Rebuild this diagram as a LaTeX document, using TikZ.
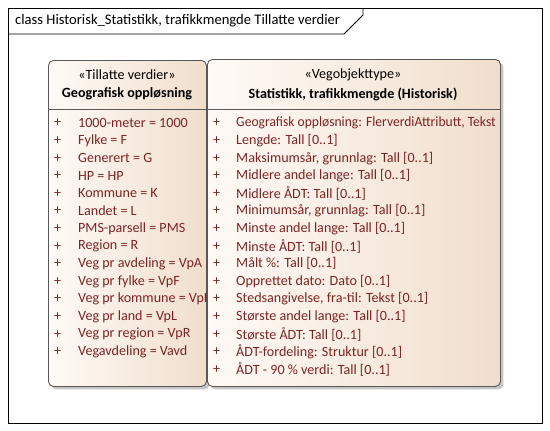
\documentclass[tikz,border=0pt]{standalone}
\usepackage{fontspec}
\setmainfont{Carlito}
\usetikzlibrary{shadows}

\definecolor{attrtext}{RGB}{125,36,36}
\definecolor{boxedge}{RGB}{88,88,88}
\definecolor{peachlight}{RGB}{255,250,246}
\definecolor{peachdark}{RGB}{240,222,204}

\begin{document}
\begin{tikzpicture}[x=1pt,y=-1pt,
  classbox/.style={draw=boxedge, line width=0.9pt, rounded corners=5pt,
    left color=peachlight, right color=peachdark,
    drop shadow={shadow xshift=3pt, shadow yshift=-3pt, fill=black!28, opacity=0.8},
    inner sep=0pt, anchor=north west},
  uitext/.style={font=\fontsize{14.1}{16}\selectfont, inner sep=0pt},
  attrrow/.style={uitext, text=attrtext, anchor=west},
  stereo/.style={uitext, anchor=center},
  classname/.style={uitext, font=\fontsize{14.1}{16}\selectfont\bfseries, anchor=center},
  divider/.style={draw=boxedge, line width=0.8pt}]

\useasboundingbox (0,0) rectangle (550,431);
\fill[white] (0,0) rectangle (550,431);

% diagram frame with its name tab
\draw[line width=0.9pt] (8,8) rectangle (542,423);
\draw[line width=0.9pt] (8,34) -- (344,34) -- (363,15) -- (363,8);
\node[uitext, font=\fontsize{14.6}{16}\selectfont, anchor=west] (frametitle) at (15,21)
  {class Historisk\_Statistikk, trafikkmengde Tillatte verdier};

% enumeration: Geografisk oppløsning
\node[classbox, minimum width=158pt, minimum height=326pt] (geo) at (48,60) {};
\node[stereo] (geostereo) at (127,75) {«Tillatte verdier»};
\node[classname] (geoname) at (127,94) {Geografisk oppløsning};
\draw[divider] (48,109) -- (206,109);
\foreach \txt [count=\i from 0] in {1000-meter = 1000, Fylke = F, Generert = G,
    HP = HP, Kommune = K, Landet = L, PMS-parsell = PMS, Region = R,
    Veg pr avdeling = VpA, Veg pr fylke = VpF, Veg pr kommune = VpK,
    Veg pr land = VpL, Veg pr region = VpR, Vegavdeling = Vavd} {
  \node[attrrow] (geoplus\i) at (54,123+17.6*\i) {+};
  \node[attrrow] (geoattr\i) at (78,123+17.6*\i) {\txt};
}

% feature type: Statistikk, trafikkmengde (Historisk)
\node[classbox, minimum width=293pt, minimum height=327pt] (stat) at (207,59) {};
\node[stereo] (statstereo) at (353,75) {«Vegobjekttype»};
\node[classname] (statname) at (353,94) {Statistikk, trafikkmengde (Historisk)};
\draw[divider] (207,109) -- (500,109);
\begin{scope}
  % attribute texts stay inside the compartment
  \clip (207,110) rectangle (499,386);
  \foreach \txt [count=\i from 0] in {{\scalebox{0.962}[1]{Geografisk oppløsning: FlerverdiAttributt, Tekst}},
      {Lengde: Tall [0..1]}, {Maksimumsår, grunnlag: Tall [0..1]},
      {Midlere andel lange: Tall [0..1]}, {Midlere ÅDT: Tall [0..1]},
      {Minimumsår, grunnlag: Tall [0..1]}, {Minste andel lange: Tall [0..1]},
      {Minste ÅDT: Tall [0..1]}, {Målt \%: Tall [0..1]},
      {Opprettet dato: Dato [0..1]}, {Stedsangivelse, fra-til: Tekst [0..1]},
      {Største andel lange: Tall [0..1]}, {Største ÅDT: Tall [0..1]},
      {ÅDT-fordeling: Struktur [0..1]}, {ÅDT - 90 \% verdi: Tall [0..1]}} {
    \node[attrrow] (statplus\i) at (213,123+17.6*\i) {+};
    \node[attrrow] (statattr\i) at (236,123+17.6*\i) {\txt};
  }
\end{scope}
\end{tikzpicture}
\end{document}
